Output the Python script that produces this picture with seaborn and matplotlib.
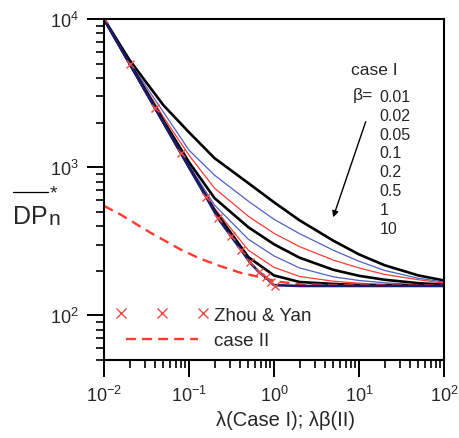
import matplotlib
matplotlib.use("Agg")
import numpy as np
import pandas as pd
import seaborn as sns
import matplotlib.pyplot as plt
from matplotlib.lines import Line2D
from matplotlib.legend_handler import HandlerLine2D
from matplotlib.ticker import LogLocator, NullFormatter

# ---------------- data ----------------
lam = [0.01, 0.02, 0.05, 0.1, 0.2, 0.5, 1, 2, 5, 10, 20, 50, 100]

dp_beta_001 = [10000, 5280, 2620, 1720, 1150, 780, 580, 438, 319, 258, 218, 186, 172]
dp_beta_002 = [10000, 5120, 2355, 1303, 883, 589, 445, 356, 275, 232, 201, 178, 168]
dp_beta_005 = [10000, 5080, 2180, 1205, 721, 466, 358, 291, 236, 209, 189, 174, 165]
dp_beta_01 = [10000, 5047, 2063, 1081, 618, 393, 302, 245, 203, 185, 174, 165, 161]
dp_beta_02 = [10000, 5020, 2030, 1032, 554, 326, 252, 209, 182, 172, 166, 161, 160]
dp_beta_05 = [10000, 5000, 2014, 1008, 528, 275, 211, 183, 170, 165, 161, 160, 159]
dp_beta_1 = [10000, 5000, 2000, 1000, 512, 247, 186, 168, 163, 160, 160, 159, 159]

lam_beta_10 = [0.01, 0.02, 0.04, 0.08, 0.16, 0.22, 0.31, 0.41, 0.52, 0.67, 0.8, 0.92, 1.0, 2, 10, 100]
dp_beta_10 = [10000, 5000, 2500, 1250, 625, 452, 344, 277, 228, 195, 181, 167, 160, 158, 158, 158]

lam_zhou = [0.01, 0.02, 0.04, 0.08, 0.16, 0.22, 0.31, 0.41, 0.52, 0.67, 0.8, 0.92, 1.02]
dp_zhou = [10000, 5000, 2500, 1250, 625, 452, 344, 277, 228, 195, 181, 167, 159]

lam_case2 = [0.01, 0.0155, 0.035, 0.079, 0.136, 0.234, 0.403, 0.693, 1.1, 2.06, 6, 100]
dp_case2 = [548, 481, 362, 279, 241, 215, 194, 181, 169, 162, 160, 159]

beta_labels = ["0.01", "0.02", "0.05", "0.1", "0.2", "0.5", "1", "10"]
legend_labels = ["Zhou & Yan", "case II"]
x_label = "λ(Case I); λβ(II)"

# ---------------- style ----------------
sns.set_style("ticks")
plt.rcParams["font.family"] = ["Liberation Sans", "DejaVu Sans"]
plt.rcParams["mathtext.fontset"] = "custom"
plt.rcParams["mathtext.rm"] = "Liberation Sans"
plt.rcParams["mathtext.it"] = "Liberation Sans:italic"
plt.rcParams["mathtext.bf"] = "Liberation Sans:bold"
plt.rcParams["mathtext.sf"] = "Liberation Sans"

BLACK = "#000000"
BLUE = "#4f5fc4"
RED = "#ff3a30"
NAVY = "#1b1b6b"
XRED = "#f24a44"

fig = plt.figure(figsize=(4.6, 4.39), dpi=100)
ax = fig.add_axes([0.2261, 0.1777, 0.7391, 0.7767])
ax.set_xscale("log")
ax.set_yscale("log")

case1 = [
    (dp_beta_001, BLACK, 1.9),
    (dp_beta_002, BLUE, 0.9),
    (dp_beta_005, RED, 0.9),
    (dp_beta_01, BLACK, 1.9),
    (dp_beta_02, BLUE, 0.9),
    (dp_beta_05, RED, 0.9),
    (dp_beta_1, BLACK, 1.9),
]
for dp, col, lw in case1:
    sns.lineplot(x=lam, y=dp, ax=ax, color=col, lw=lw, estimator=None,
                 sort=False, legend=False)

sns.lineplot(x=lam_case2, y=dp_case2, ax=ax, color=RED, lw=1.7,
             estimator=None, sort=False, legend=False, dashes=False)
ax.lines[-1].set_dashes([4.2, 2.6])

sns.lineplot(x=lam_beta_10, y=dp_beta_10, ax=ax, color=NAVY, lw=1.9,
             estimator=None, sort=False, legend=False)

ax.plot(lam_zhou, dp_zhou, ls="none", marker="x", ms=6, mew=1.0, color=XRED)

ax.set_xlim(0.01, 100)
ax.set_ylim(50, 1e4)

for s in ax.spines.values():
    s.set_linewidth(1.5)
    s.set_color("black")

ax.xaxis.set_major_locator(LogLocator(base=10, numticks=10))
ax.xaxis.set_minor_locator(LogLocator(base=10, subs=np.arange(2, 10), numticks=20))
ax.yaxis.set_major_locator(LogLocator(base=10, numticks=10))
ax.yaxis.set_minor_locator(LogLocator(base=10, subs=np.arange(2, 10), numticks=20))
ax.xaxis.set_minor_formatter(NullFormatter())
ax.yaxis.set_minor_formatter(NullFormatter())
ax.tick_params(which="major", direction="out", length=12, width=1.4,
               labelsize=13, pad=6, top=False, right=False, color="black")
ax.tick_params(which="minor", direction="out", length=6, width=1.2,
               top=False, right=False, color="black")

ax.set_xlabel(x_label, fontsize=14.5, labelpad=2)
ax.xaxis.set_label_coords(0.535, -0.148)
ax.set_ylabel("")

# y label: overline DP_n with asterisk
fig.text(13 / 460, 1 - 224 / 439, "DP", fontsize=18, ha="left", va="baseline")
fig.text(49 / 460, 1 - 225 / 439, "n", fontsize=15, ha="left", va="baseline")
fig.text(50 / 460, 1 - 185 / 439, "*", fontsize=14, ha="left", va="top")
fig.add_artist(Line2D([13 / 460, 48 / 460], [1 - 193 / 439, 1 - 193 / 439],
                      transform=fig.transFigure, color="black", lw=0.9))

# annotation
ax.text(0.7256, 0.853, "case I", transform=ax.transAxes, fontsize=12.5,
        ha="left", va="center")
ax.text(0.7324, 0.7786, "β=", transform=ax.transAxes, fontsize=12.5,
        ha="left", va="center")
for i, lab in enumerate(beta_labels):
    ax.text(0.8097, 0.7727 - i * 0.0551, lab, transform=ax.transAxes,
            fontsize=11.5, ha="left", va="center")
ax.annotate("", xy=(0.674, 0.4185), xytext=(0.7697, 0.6988),
            xycoords="axes fraction", textcoords="axes fraction",
            arrowprops=dict(arrowstyle="-|>", lw=1.0, color="black",
                            mutation_scale=9, shrinkA=0, shrinkB=0))

# legend
h_zhou = Line2D([], [], ls="none", marker="x", ms=7, mew=1.0, color=XRED)
h_c2 = Line2D([], [], color=RED, lw=1.7, dashes=[4.2, 2.6])
leg = ax.legend([h_zhou, h_c2], legend_labels, loc="upper left",
                bbox_to_anchor=(0.049, 0.157), borderaxespad=0, borderpad=0,
                frameon=False, fontsize=13.5, numpoints=3, handlelength=4.4,
                handletextpad=0.6, labelspacing=0.46,
                handler_map={h_zhou: HandlerLine2D(marker_pad=0, numpoints=3)})

fig.savefig("out.png", dpi=100)
